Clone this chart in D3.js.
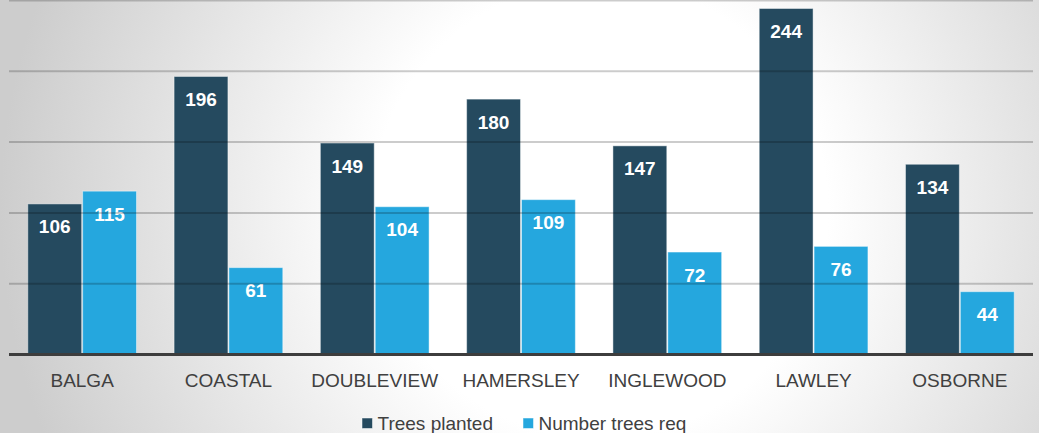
<!DOCTYPE html>
<html>
<head>
<meta charset="utf-8">
<script src="https://cdn.jsdelivr.net/npm/d3@7"></script>
<style>
  body { margin: 0; overflow: hidden; }
  svg { display: block; font-family: "Liberation Sans", Arial, sans-serif; }
</style>
</head>
<body>
<script>
// data
let categories = ["BALGA", "COASTAL", "DOUBLEVIEW", "HAMERSLEY", "INGLEWOOD", "LAWLEY", "OSBORNE"];
let series_names = ["Trees planted", "Number trees req"];
let trees_planted = [106, 196, 149, 180, 147, 244, 134];
let trees_required = [115, 61, 104, 109, 72, 76, 44];
let y_ticks = [0, 50, 100, 150, 200, 250];

let colors = ["#254a5f", "#25a7de"];

let width = 1039;
let height = 433;
let padding = {
    top: 0,
    left: 9,
    right: 6,
    bottom: 79
}

let svg = d3.select("body").append("svg")
    .attr("width", width)
    .attr("height", height);

// radial background, white in the middle and grey at the edges
let defs = svg.append("defs");
let grad = defs.append("radialGradient")
    .attr("id", "bg")
    .attr("gradientUnits", "userSpaceOnUse")
    .attr("cx", 600).attr("cy", 210)
    .attr("r", 600);
grad.append("stop").attr("offset", 0).attr("stop-color", "#ffffff");
grad.append("stop").attr("offset", 0.38).attr("stop-color", "#ffffff");
grad.append("stop").attr("offset", 1).attr("stop-color", "#cdcdcd");

svg.append("rect")
    .attr("width", width)
    .attr("height", height)
    .attr("fill", "url(#bg)");

let x = d3.scaleBand()
    .domain(categories)
    .range([padding.left, width - padding.right])
    .paddingInner(0.25)
    .paddingOuter(0.125);

let x_inner = d3.scaleBand()
    .domain(series_names)
    .range([0, x.bandwidth()]);

let y = d3.scaleLinear()
    .domain([0, 250])
    .range([height - padding.bottom, padding.top]);

let table = categories.map((c, i) => ({
    category: c,
    values: [trees_planted[i], trees_required[i]]
}));

// bars
let groups = svg.append("g").selectAll("g")
    .data(table)
    .join("g")
    .attr("transform", d => "translate(" + x(d.category) + ",0)");

groups.selectAll("rect")
    .data(d => d.values.map((v, j) => ({ name: series_names[j], value: v, j: j })))
    .join("rect")
    .attr("x", d => x_inner(d.name) + 0.5)
    .attr("y", d => y(d.value))
    .attr("width", x_inner.bandwidth() - 1)
    .attr("height", d => y(0) - y(d.value))
    .attr("fill", d => colors[d.j])
    .attr("stroke", "rgba(255,255,255,0.45)")
    .attr("stroke-width", 1);

// gridlines drawn over the bars, faint
svg.append("g").selectAll("line")
    .data(y_ticks.filter(t => t > 0))
    .join("line")
    .attr("x1", padding.left)
    .attr("x2", width - padding.right)
    .attr("y1", d => y(d) + 0.5)
    .attr("y2", d => y(d) + 0.5)
    .attr("stroke", "rgba(0,0,0,0.2)")
    .attr("stroke-width", 2);

// value labels
groups.selectAll("text")
    .data(d => d.values.map((v, j) => ({ name: series_names[j], value: v })))
    .join("text")
    .attr("x", d => x_inner(d.name) + x_inner.bandwidth() / 2)
    .attr("y", d => y(d.value) + 29.5)
    .attr("text-anchor", "middle")
    .style("font-size", "19px")
    .style("font-weight", "bold")
    .style("fill", "#ffffff")
    .text(d => d.value);

// baseline
svg.append("line")
    .attr("x1", padding.left)
    .attr("x2", width - padding.right)
    .attr("y1", y(0) + 0.5)
    .attr("y2", y(0) + 0.5)
    .attr("stroke", "#3d3d3d")
    .attr("stroke-width", 3);

// category axis
let x_axis = svg.append("g")
    .attr("transform", "translate(0," + y(0) + ")")
    .call(d3.axisBottom(x).tickSize(0));
x_axis.select(".domain").remove();
x_axis.selectAll("text")
    .attr("y", 33)
    .attr("dy", 0)
    .style("font-family", "'Liberation Sans', Arial, sans-serif")
    .style("font-size", "19px")
    .style("fill", "#404040");

// legend
let legend_x = [362, 523];
let legend = svg.append("g").selectAll("g")
    .data(series_names)
    .join("g")
    .attr("transform", (d, i) => "translate(" + legend_x[i] + ",418)");
legend.append("rect")
    .attr("width", 10.5)
    .attr("height", 10.5)
    .attr("fill", (d, i) => colors[i])
    .attr("stroke", "rgba(255,255,255,0.5)");
legend.append("text")
    .attr("x", 15.5)
    .attr("y", 11.5)
    .style("font-size", "19px")
    .style("fill", "#404040")
    .text(d => d);
</script>
</body>
</html>
